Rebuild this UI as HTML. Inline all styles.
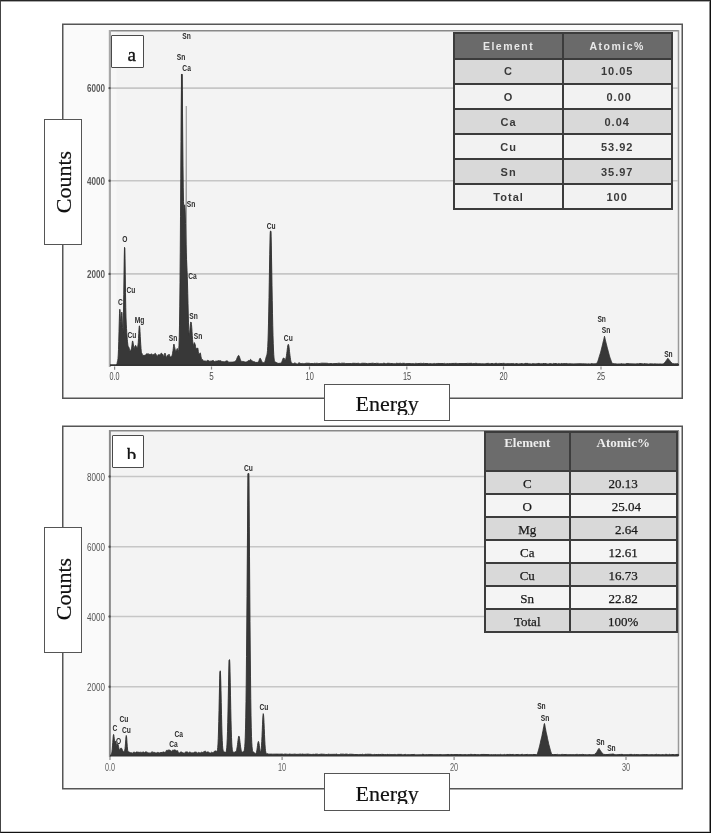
<!DOCTYPE html>
<html><head><meta charset="utf-8"><style>
*{margin:0;padding:0;box-sizing:border-box}
html,body{width:711px;height:833px;overflow:hidden;background:#fff}
body{position:relative}
.frame{position:absolute;left:0;top:0;width:711px;height:833px;border-top:1px solid #262626;border-left:1px solid #444;border-right:1px solid #111;border-bottom:1px solid #111;box-shadow:inset -1px 0 0 #8a8a8a, inset 0 1px 0 #a8a8a8, inset 0 -1px 0 #c8c8c8;z-index:10;pointer-events:none}
.box{position:absolute;background:#fff;border:1.5px solid #555}
.lbl{font-family:"Liberation Serif",serif;font-size:22px;color:#111;position:absolute;white-space:nowrap;line-height:1;-webkit-text-stroke:0.2px #111}
.tag{position:absolute;background:#fff;border:1.5px solid #4a4a4a;border-radius:1px;font-family:"Liberation Serif",serif;font-size:19px;color:#111;line-height:1;-webkit-text-stroke:0.35px #111}
table{position:absolute;border-collapse:collapse;table-layout:fixed}
td{border:1.5px solid #333;text-align:center;padding:0;overflow:hidden;white-space:nowrap}
.ta td{border:2px solid #3c3c3c;font-family:"Liberation Sans",sans-serif;font-size:11px;font-weight:bold;color:#3a3a3a;height:25.1px;letter-spacing:1px;padding-top:0}
.ta tr.h td{background:#6a6a6a;color:#e8e8e8;font-size:10.5px;height:25.6px;padding-top:0;letter-spacing:1.5px}
.ta tr.g td{background:#d9d9d9}
.ta tr.w td{background:#f2f2f2}
.tb td{border:2px solid #3c3c3c;font-family:"Liberation Serif",serif;font-size:13px;color:#1a1a1a;height:23.0px;padding-top:2px;-webkit-text-stroke:0.25px #1a1a1a}
.tb tr.h td{background:#6c6c6c;color:#eee;-webkit-text-stroke:0;font-weight:bold;vertical-align:top;padding-top:2px;height:39.6px}
.tb tr.g td{background:#d9d9d9}
.tb tr.w td{background:#f4f4f4}
</style></head><body>
<svg width="711" height="833" viewBox="0 0 711 833" style="position:absolute;left:0;top:0">
  <!-- panel a -->
  <rect x="62.75" y="24.25" width="619.5" height="374" fill="#fafafa" stroke="#555" stroke-width="1.5"/>
  <rect x="109.5" y="30.5" width="569" height="335" fill="#f3f3f3"/>
  <rect x="110.5" y="30.5" width="6" height="335" fill="#f7f7f7"/>
  <line x1="109" y1="30.75" x2="679" y2="30.75" stroke="#888" stroke-width="1.5"/>
  <line x1="678.5" y1="30" x2="678.5" y2="366" stroke="#999" stroke-width="1.5"/>
  <g stroke="#c6c6c6" stroke-width="1.6">
    <line x1="110" y1="88.1" x2="678" y2="88.1"/>
    <line x1="110" y1="180.7" x2="678" y2="180.7"/>
    <line x1="110" y1="273.9" x2="678" y2="273.9"/>
  </g>
  <line x1="109.9" y1="30" x2="109.9" y2="367" stroke="#a8a8a8" stroke-width="2.2"/>
  <path d="M178.00,365.00 L178.00,365.00 L183.75,364.97 L184.00,364.83 L184.25,364.24 L184.50,362.11 L184.75,355.76 L185.00,340.14 L185.25,308.77 L185.50,258.11 L185.75,194.19 L186.00,135.55 L186.25,105.90 L186.50,119.05 L186.75,168.74 L187.00,233.35 L187.25,290.77 L187.50,329.81 L187.75,350.98 L188.00,360.30 L188.25,363.68 L188.50,364.69 L188.75,364.94 L195.00,365.00 L195.00,365.00 Z" fill="#9c9c9c" stroke="none"/>
  <line x1="186.3" y1="106" x2="186.3" y2="260" stroke="#a0a0a0" stroke-width="1.2"/>
  <path d="M116.00,365.00 L116.00,365.00 L116.75,365.00 L117.00,363.78 L117.25,362.27 L117.50,361.24 L117.75,360.33 L118.00,358.57 L118.25,355.01 L118.50,349.37 L118.75,341.46 L119.00,331.50 L119.25,321.86 L119.50,313.64 L119.75,309.27 L120.00,310.02 L120.25,314.99 L120.50,321.27 L120.75,325.81 L121.00,326.13 L121.25,321.61 L121.50,315.39 L121.75,312.09 L122.00,313.71 L122.25,320.00 L122.50,327.67 L122.75,332.87 L123.00,332.80 L123.25,326.18 L123.50,312.83 L123.75,294.69 L124.00,274.62 L124.25,257.21 L124.50,247.45 L124.75,248.04 L125.00,258.27 L125.25,274.64 L125.50,292.48 L125.75,307.65 L126.00,317.96 L126.25,324.08 L126.50,328.42 L126.75,332.32 L127.00,336.05 L127.25,339.24 L127.50,341.81 L127.75,344.08 L128.00,345.92 L128.25,346.88 L128.50,346.92 L128.75,347.04 L129.00,347.72 L129.25,348.51 L129.50,349.26 L129.75,350.42 L130.00,351.03 L130.50,350.91 L130.75,350.74 L131.00,349.90 L131.25,349.05 L131.50,348.33 L131.75,347.08 L132.00,344.91 L132.25,342.47 L132.50,341.02 L132.75,341.12 L133.00,342.15 L133.25,343.87 L133.50,346.04 L133.75,347.69 L134.00,348.36 L134.25,348.39 L134.50,347.84 L134.75,346.86 L135.00,346.04 L135.25,345.66 L135.50,345.35 L135.75,345.49 L136.00,346.00 L136.25,346.54 L136.50,347.04 L136.75,347.50 L137.00,347.38 L137.25,347.27 L137.50,347.14 L137.75,346.43 L138.00,344.88 L138.25,342.46 L138.50,338.50 L138.75,333.65 L139.00,329.06 L139.25,326.30 L139.50,325.80 L139.75,327.66 L140.00,331.57 L140.25,336.56 L140.50,341.03 L140.75,344.81 L141.00,348.32 L141.25,351.14 L141.50,352.70 L141.75,353.06 L142.00,353.48 L142.25,354.17 L142.50,354.81 L142.75,355.25 L143.00,355.58 L143.25,355.70 L143.50,355.30 L143.75,354.91 L144.00,355.17 L144.25,355.75 L144.50,355.79 L144.75,355.22 L145.00,354.79 L145.25,355.00 L145.50,355.43 L145.75,355.28 L146.00,354.61 L146.25,354.03 L146.50,353.78 L147.00,353.79 L147.25,353.95 L147.50,354.13 L147.75,353.77 L148.00,353.52 L148.25,353.67 L148.50,353.92 L148.75,354.19 L149.00,354.79 L149.25,355.08 L149.50,354.65 L149.75,354.07 L150.00,354.09 L150.25,354.47 L150.50,354.43 L150.75,354.22 L151.00,354.20 L151.25,354.06 L151.50,353.81 L151.75,353.94 L152.00,354.20 L152.25,354.38 L152.50,354.95 L152.75,355.54 L153.00,355.35 L153.25,354.61 L153.50,354.39 L153.75,354.71 L154.00,354.70 L154.25,354.22 L154.50,353.92 L154.75,353.79 L155.00,353.39 L155.25,353.30 L155.50,353.76 L155.75,354.19 L156.00,354.27 L156.25,354.59 L156.50,355.08 L156.75,355.75 L157.00,356.26 L157.25,356.37 L157.50,356.22 L157.75,355.81 L158.00,355.03 L158.25,354.58 L158.50,354.75 L158.75,355.05 L159.00,354.97 L159.25,354.71 L159.50,354.71 L159.75,354.96 L160.00,355.03 L160.25,354.74 L160.50,354.33 L160.75,353.88 L161.00,353.23 L161.25,353.05 L161.50,353.53 L161.75,354.06 L162.00,354.20 L162.75,354.27 L163.00,354.53 L163.25,355.41 L163.50,356.37 L163.75,356.57 L164.00,356.29 L164.25,355.67 L164.50,354.40 L164.75,353.26 L165.00,353.06 L165.25,353.46 L165.50,354.29 L165.75,355.70 L166.00,356.84 L166.25,357.30 L166.50,357.32 L166.75,356.98 L167.00,356.18 L167.25,355.68 L167.50,355.37 L167.75,355.17 L168.00,355.26 L168.25,355.64 L168.50,355.43 L168.75,354.55 L169.00,354.11 L169.25,354.52 L169.50,355.18 L169.75,355.89 L170.00,356.63 L170.25,356.90 L170.50,356.90 L170.75,356.74 L171.00,356.51 L171.25,356.46 L171.50,356.28 L171.75,356.18 L172.00,356.05 L172.25,355.08 L172.50,353.42 L172.75,352.09 L173.00,350.78 L173.25,348.75 L173.50,346.23 L173.75,344.37 L174.00,344.10 L174.25,345.20 L174.50,346.55 L174.75,347.64 L175.00,348.83 L175.25,350.13 L175.50,350.99 L175.75,351.24 L176.00,351.21 L176.25,350.73 L176.50,350.11 L176.75,349.59 L177.00,349.00 L177.25,348.48 L177.50,348.79 L177.75,350.00 L178.00,351.09 L178.25,351.51 L178.50,351.21 L178.75,349.51 L179.00,345.23 L179.25,337.59 L179.50,325.10 L179.75,306.90 L180.00,282.65 L180.25,252.29 L180.50,216.77 L180.75,178.86 L181.00,141.70 L181.25,108.97 L181.50,85.14 L181.75,73.97 L182.00,76.42 L182.25,90.46 L182.50,113.08 L182.75,139.91 L183.00,165.90 L183.25,187.15 L183.50,201.61 L183.75,208.66 L184.00,209.76 L184.25,207.77 L184.50,205.43 L184.75,204.77 L185.00,207.46 L185.25,214.05 L185.50,223.42 L185.75,234.11 L186.00,244.44 L186.25,252.89 L186.50,259.51 L186.75,265.13 L187.00,270.41 L187.25,276.30 L187.50,284.01 L187.75,293.53 L188.00,303.71 L188.25,313.95 L188.50,322.86 L188.75,329.51 L189.00,333.69 L189.25,335.40 L189.50,334.63 L189.75,332.15 L190.00,329.01 L190.25,325.99 L190.50,323.55 L190.75,322.07 L191.00,322.00 L191.25,322.84 L191.50,324.72 L191.75,327.64 L192.00,331.28 L192.25,335.39 L192.50,339.36 L192.75,341.95 L193.00,343.80 L193.25,345.22 L193.50,345.69 L193.75,345.14 L194.00,343.85 L194.25,342.68 L194.50,342.72 L194.75,343.47 L195.00,344.08 L195.25,344.90 L195.50,346.35 L195.75,347.89 L196.00,348.87 L196.25,348.93 L196.50,348.57 L196.75,348.36 L197.00,348.46 L197.25,348.46 L197.50,348.00 L197.75,347.91 L198.00,349.20 L198.25,351.33 L198.50,352.87 L198.75,353.68 L199.00,354.23 L199.25,354.35 L199.50,353.94 L199.75,353.43 L200.00,352.92 L200.25,352.89 L200.50,353.74 L200.75,355.13 L201.00,356.65 L201.25,358.11 L201.50,359.11 L201.75,359.58 L202.00,359.73 L202.25,359.64 L202.50,359.48 L202.75,359.67 L203.00,360.43 L203.25,360.97 L203.75,361.07 L204.00,361.09 L204.25,360.92 L204.50,360.93 L204.75,361.03 L206.25,361.13 L206.75,361.14 L207.00,360.94 L207.25,360.65 L207.50,360.35 L207.75,360.16 L208.00,360.15 L208.25,360.33 L208.50,360.62 L208.75,360.92 L209.00,361.16 L209.25,361.24 L210.25,361.14 L211.25,361.05 L212.00,360.97 L212.25,360.82 L212.50,360.62 L212.75,360.44 L213.00,360.33 L213.25,360.38 L213.50,360.64 L213.75,361.00 L214.00,361.37 L214.25,361.62 L214.75,361.60 L215.00,361.46 L215.25,361.31 L215.50,361.20 L216.75,361.11 L217.25,361.08 L217.50,360.97 L217.75,360.84 L218.00,360.72 L219.25,360.82 L221.00,360.86 L221.25,361.02 L221.50,361.28 L221.75,361.55 L222.00,361.75 L223.25,361.65 L224.50,361.75 L225.00,361.72 L225.25,361.55 L225.50,361.32 L225.75,361.11 L226.00,360.98 L227.25,360.89 L227.50,360.91 L227.75,361.13 L228.00,361.48 L228.25,361.85 L228.50,362.13 L228.75,362.22 L233.00,362.12 L233.25,362.01 L233.50,361.90 L233.75,361.82 L234.25,361.74 L234.50,361.64 L234.75,361.51 L235.00,361.35 L235.25,361.16 L235.50,360.98 L235.75,360.77 L236.00,360.49 L236.25,360.08 L236.50,359.51 L236.75,358.85 L237.00,358.21 L237.25,357.59 L237.50,357.01 L237.75,356.48 L238.00,356.02 L238.25,355.65 L238.50,355.44 L238.75,355.47 L239.00,355.77 L239.25,356.33 L239.50,357.03 L239.75,357.79 L240.00,358.57 L240.25,359.31 L240.50,359.96 L240.75,360.47 L241.00,360.85 L241.25,361.13 L241.50,361.35 L241.75,361.54 L242.25,361.55 L242.50,361.44 L242.75,361.34 L243.25,361.37 L243.50,361.49 L243.75,361.62 L244.00,361.73 L244.50,361.81 L244.75,361.88 L245.00,361.96 L245.50,362.07 L246.25,361.93 L246.50,361.84 L246.75,361.74 L247.00,361.64 L247.25,361.50 L247.50,361.32 L247.75,361.11 L248.00,360.88 L248.25,360.65 L248.50,360.53 L249.25,360.63 L249.50,360.57 L249.75,360.34 L250.00,360.00 L250.25,359.66 L250.50,359.42 L250.75,359.41 L251.00,359.63 L251.25,359.91 L251.50,360.22 L251.75,360.53 L252.00,360.80 L252.25,361.02 L252.50,361.19 L252.75,361.31 L253.00,361.40 L253.50,361.55 L253.75,361.63 L254.25,361.78 L254.75,361.85 L255.00,361.95 L255.25,362.12 L255.50,362.32 L255.75,362.47 L257.50,362.33 L257.75,362.27 L258.00,362.18 L258.25,362.01 L258.50,361.71 L258.75,361.23 L259.00,360.57 L259.25,359.82 L259.50,359.10 L259.75,358.53 L260.00,358.23 L260.25,358.26 L260.50,358.56 L260.75,359.05 L261.00,359.62 L261.25,360.15 L261.50,360.67 L261.75,361.20 L262.00,361.68 L262.25,362.10 L262.50,362.44 L262.75,362.68 L263.00,362.81 L264.00,362.75 L264.25,362.59 L264.50,362.31 L264.75,361.89 L265.00,361.29 L265.25,360.52 L265.50,359.59 L265.75,358.59 L266.00,357.62 L266.25,356.75 L266.50,356.00 L266.75,355.29 L267.00,354.39 L267.25,352.92 L267.50,350.45 L267.75,346.52 L268.00,340.79 L268.25,333.02 L268.50,323.08 L268.75,311.10 L269.00,297.45 L269.25,282.80 L269.50,268.07 L269.75,254.41 L270.00,242.98 L270.25,234.87 L270.50,230.86 L270.75,231.33 L271.00,236.25 L271.25,245.10 L271.50,257.05 L271.75,270.99 L272.00,285.74 L272.25,300.27 L272.50,313.75 L272.75,325.64 L273.00,335.65 L273.25,343.75 L273.50,350.02 L273.75,354.67 L274.00,357.95 L274.25,360.12 L274.50,361.33 L274.75,361.87 L275.00,362.01 L275.50,362.05 L275.75,362.18 L276.00,362.33 L276.25,362.48 L276.50,362.60 L277.00,362.73 L277.25,362.89 L277.50,363.11 L277.75,363.31 L278.00,363.44 L279.00,363.34 L280.00,363.25 L280.50,363.14 L280.75,363.07 L281.00,362.95 L281.25,362.76 L281.50,362.45 L281.75,362.00 L282.00,361.40 L282.25,360.71 L282.50,359.99 L282.75,359.28 L283.00,358.68 L283.25,358.25 L283.50,358.00 L283.75,357.91 L284.00,358.03 L284.25,358.36 L284.50,358.89 L284.75,359.50 L285.00,359.89 L285.25,359.98 L285.50,359.72 L285.75,359.09 L286.00,358.11 L286.25,356.88 L286.50,355.38 L286.75,353.62 L287.00,351.65 L287.25,349.55 L287.50,347.55 L287.75,345.92 L288.00,344.80 L288.25,344.31 L288.50,344.52 L288.75,345.47 L289.00,347.07 L289.25,349.13 L289.50,351.42 L289.75,353.70 L290.00,355.81 L290.25,357.71 L290.50,359.32 L290.75,360.63 L291.00,361.65 L291.25,362.38 L291.50,362.84 L291.75,363.09 L292.00,363.22 L292.50,363.38 L293.00,363.52 L293.50,363.61 L293.75,363.62 L294.00,363.51 L294.25,363.29 L294.50,363.04 L294.75,362.84 L295.00,362.76 L295.25,362.87 L295.50,363.12 L295.75,363.43 L296.00,363.70 L296.25,363.85 L297.00,364.00 L297.50,364.10 L297.75,364.06 L298.00,363.78 L298.25,363.38 L298.50,362.98 L298.75,362.70 L299.00,362.67 L299.25,362.78 L299.50,362.97 L299.75,363.16 L300.00,363.37 L300.75,363.47 L301.25,363.59 L302.25,363.47 L302.75,363.38 L303.25,363.46 L303.50,363.55 L303.75,363.63 L304.50,363.62 L304.75,363.54 L305.00,363.46 L305.75,363.34 L306.25,363.19 L309.00,363.28 L309.75,363.36 L310.25,363.51 L313.00,363.61 L313.50,363.56 L313.75,363.47 L314.00,363.37 L314.25,363.29 L315.50,363.38 L316.75,363.28 L317.75,363.39 L318.25,363.51 L320.00,363.54 L320.25,363.45 L320.50,363.35 L320.75,363.27 L321.75,363.17 L326.75,363.26 L328.00,363.39 L328.25,363.47 L328.75,363.59 L329.50,363.50 L332.00,363.61 L332.50,363.70 L335.00,363.59 L337.25,363.45 L337.75,363.33 L338.75,363.21 L339.75,363.29 L340.00,363.37 L340.50,363.47 L341.00,363.38 L341.25,363.29 L341.75,363.18 L344.75,363.24 L345.00,363.33 L345.25,363.43 L345.75,363.53 L347.00,363.62 L351.50,363.52 L352.00,363.40 L353.00,363.27 L355.50,363.37 L356.00,363.47 L357.25,363.37 L358.50,363.29 L359.00,363.34 L359.25,363.45 L359.50,363.57 L359.75,363.67 L360.25,363.68 L360.50,363.60 L360.75,363.50 L361.00,363.41 L361.75,363.33 L362.25,363.25 L365.50,363.34 L366.00,363.43 L367.00,363.54 L367.50,363.64 L368.25,363.56 L368.50,363.46 L368.75,363.36 L370.00,363.51 L371.25,363.37 L372.00,363.28 L373.00,363.19 L373.25,363.23 L373.50,363.31 L373.75,363.41 L374.00,363.49 L376.00,363.47 L376.25,363.38 L376.50,363.29 L378.50,363.39 L378.75,363.48 L379.00,363.57 L379.50,363.68 L382.25,363.68 L382.50,363.59 L382.75,363.47 L383.00,363.35 L383.25,363.26 L385.00,363.36 L385.25,363.46 L385.50,363.57 L385.75,363.66 L386.25,363.66 L386.50,363.57 L386.75,363.45 L387.00,363.35 L388.00,363.25 L389.50,363.36 L390.50,363.48 L391.00,363.57 L392.25,363.48 L393.25,363.62 L393.75,363.72 L395.25,363.77 L395.50,363.66 L395.75,363.51 L396.00,363.35 L396.25,363.24 L397.25,363.36 L398.25,363.44 L399.75,363.34 L400.25,363.25 L400.75,363.33 L401.00,363.41 L401.50,363.54 L402.25,363.42 L402.75,363.29 L404.50,363.36 L404.75,363.46 L405.00,363.56 L405.25,363.65 L410.25,363.52 L411.75,363.64 L414.50,363.74 L414.75,363.72 L415.00,363.64 L415.25,363.51 L415.50,363.38 L415.75,363.29 L416.25,363.34 L416.50,363.42 L416.75,363.52 L417.25,363.61 L419.00,363.53 L420.25,363.42 L420.75,363.32 L421.75,363.43 L422.25,363.57 L423.00,363.45 L423.25,363.36 L423.75,363.28 L424.25,363.38 L424.75,363.51 L428.00,363.59 L428.25,363.67 L428.50,363.76 L429.75,363.64 L431.50,363.73 L432.50,363.82 L433.00,363.81 L433.25,363.71 L433.50,363.57 L433.75,363.45 L434.50,363.45 L434.75,363.55 L435.00,363.65 L435.50,363.74 L436.25,363.61 L437.25,363.50 L438.00,363.41 L439.00,363.50 L440.00,363.59 L443.50,363.50 L444.25,363.39 L444.75,363.42 L445.00,363.52 L445.25,363.63 L445.50,363.73 L446.50,363.64 L447.00,363.52 L447.75,363.61 L448.25,363.70 L450.25,363.58 L450.50,363.49 L451.00,363.40 L451.75,363.49 L454.75,363.41 L456.00,363.32 L456.75,363.43 L457.00,363.51 L457.50,363.60 L458.50,363.51 L464.00,363.60 L467.25,363.45 L467.75,363.32 L468.75,363.42 L471.25,363.33 L472.00,363.34 L472.25,363.43 L472.50,363.54 L472.75,363.65 L474.25,363.55 L475.00,363.45 L475.50,363.33 L477.25,363.42 L477.50,363.52 L477.75,363.64 L478.00,363.75 L480.75,363.63 L481.50,363.72 L482.00,363.83 L483.50,363.75 L484.50,363.84 L485.25,363.75 L485.50,363.65 L485.75,363.56 L486.75,363.46 L488.25,363.38 L489.00,363.42 L489.25,363.53 L489.50,363.66 L489.75,363.76 L490.50,363.70 L490.75,363.60 L491.00,363.52 L493.00,363.58 L493.25,363.66 L493.50,363.75 L494.25,363.74 L494.50,363.62 L494.75,363.50 L495.00,363.40 L496.75,363.37 L497.00,363.47 L497.25,363.60 L497.50,363.72 L498.00,363.75 L498.25,363.66 L498.50,363.53 L498.75,363.42 L499.50,363.41 L499.75,363.51 L500.00,363.60 L502.25,363.50 L502.50,363.42 L503.00,363.32 L504.00,363.40 L504.50,363.44 L504.75,363.53 L505.00,363.64 L505.25,363.75 L506.75,363.66 L510.00,363.75 L512.75,363.61 L513.25,363.50 L513.75,363.57 L514.00,363.68 L514.25,363.80 L514.50,363.89 L515.00,363.87 L515.25,363.79 L515.50,363.70 L516.00,363.59 L517.50,363.68 L518.00,363.81 L518.50,363.91 L519.25,363.83 L519.75,363.74 L520.50,363.66 L521.00,363.57 L522.75,363.65 L523.25,363.79 L523.75,363.90 L524.00,363.86 L524.25,363.74 L524.50,363.59 L524.75,363.44 L525.00,363.36 L526.00,363.44 L528.00,363.43 L528.25,363.56 L528.50,363.71 L528.75,363.83 L531.50,363.92 L531.75,363.90 L532.00,363.82 L532.25,363.70 L532.50,363.58 L532.75,363.49 L533.25,363.53 L533.50,363.61 L533.75,363.70 L534.25,363.78 L535.50,363.87 L536.25,363.76 L537.00,363.68 L537.25,363.62 L537.50,363.53 L538.00,363.41 L539.75,363.52 L540.00,363.61 L540.25,363.70 L540.75,363.80 L542.25,363.82 L542.50,363.71 L542.75,363.58 L543.00,363.47 L544.25,363.58 L546.25,363.60 L546.50,363.70 L546.75,363.80 L547.25,363.91 L548.75,363.89 L549.00,363.80 L549.25,363.70 L549.50,363.60 L551.00,363.71 L551.75,363.82 L552.25,363.91 L552.50,363.91 L552.75,363.83 L553.00,363.69 L553.25,363.55 L553.50,363.44 L554.50,363.53 L556.50,363.52 L556.75,363.61 L557.00,363.73 L557.25,363.84 L557.75,363.90 L558.00,363.82 L558.25,363.69 L558.50,363.56 L558.75,363.48 L559.25,363.54 L559.50,363.67 L559.75,363.80 L560.00,363.90 L560.50,363.87 L560.75,363.75 L561.00,363.61 L561.25,363.50 L562.25,363.61 L562.75,363.70 L565.75,363.61 L566.25,363.49 L567.00,363.48 L567.25,363.58 L567.50,363.69 L567.75,363.78 L568.75,363.87 L570.00,363.77 L570.50,363.67 L571.25,363.76 L571.75,363.84 L573.00,363.92 L578.00,363.82 L580.25,363.71 L580.75,363.57 L581.50,363.63 L581.75,363.71 L582.25,363.82 L583.25,363.72 L584.50,363.85 L587.25,363.97 L588.50,363.87 L589.75,363.97 L590.25,363.98 L590.50,363.90 L590.75,363.78 L591.00,363.66 L591.25,363.58 L592.50,363.67 L593.25,363.76 L593.75,363.87 L594.75,363.79 L595.50,363.71 L596.00,363.57 L596.50,363.46 L596.75,363.17 L597.00,362.82 L597.25,362.43 L597.50,362.00 L597.75,361.47 L598.00,360.82 L598.25,360.06 L598.50,359.23 L598.75,358.36 L599.00,357.49 L599.25,356.67 L599.50,355.88 L599.75,355.09 L600.00,354.30 L600.25,353.47 L600.50,352.60 L600.75,351.68 L601.00,350.74 L601.25,349.78 L601.50,348.81 L601.75,347.83 L602.00,346.82 L602.25,345.77 L602.50,344.70 L602.75,343.62 L603.00,342.54 L603.25,341.49 L603.50,340.47 L603.75,339.47 L604.00,338.45 L604.25,337.40 L604.50,336.30 L604.75,337.40 L605.00,338.48 L605.25,339.55 L605.50,340.62 L605.75,341.68 L606.00,342.72 L606.25,343.74 L606.50,344.74 L606.75,345.73 L607.00,346.72 L607.25,347.70 L607.50,348.63 L607.75,349.55 L608.00,350.45 L608.25,351.36 L608.50,352.30 L608.75,353.28 L609.00,354.27 L609.25,355.23 L609.50,356.13 L609.75,356.95 L610.00,357.70 L610.25,358.39 L610.50,359.06 L610.75,359.73 L611.00,360.41 L611.25,361.08 L611.50,361.72 L611.75,362.32 L612.00,362.85 L612.25,363.30 L612.50,363.61 L614.00,363.69 L614.75,363.79 L616.75,363.91 L617.25,363.99 L620.25,363.96 L620.50,363.86 L620.75,363.75 L621.00,363.65 L621.75,363.67 L622.00,363.76 L622.50,363.88 L624.50,363.96 L625.50,363.93 L625.75,363.82 L626.00,363.69 L626.25,363.58 L629.50,363.70 L630.00,363.83 L635.25,363.93 L636.50,363.83 L638.50,363.84 L638.75,363.74 L639.00,363.62 L639.25,363.52 L641.50,363.62 L642.00,363.73 L642.75,363.82 L643.25,363.91 L643.75,363.84 L644.00,363.72 L644.25,363.60 L644.50,363.51 L645.00,363.54 L645.25,363.64 L645.50,363.75 L645.75,363.84 L648.00,363.97 L648.50,364.06 L649.25,363.95 L649.75,363.85 L653.75,363.95 L654.50,363.85 L655.50,363.84 L655.75,363.92 L656.00,364.00 L657.75,363.92 L658.75,364.01 L659.75,363.91 L661.25,364.02 L663.00,364.03 L663.25,363.86 L663.50,363.64 L663.75,363.39 L664.00,363.13 L664.25,362.89 L664.50,362.64 L664.75,362.39 L665.00,362.13 L665.25,361.85 L665.50,361.57 L665.75,361.24 L666.00,360.89 L666.25,360.51 L666.50,360.13 L666.75,359.77 L667.00,359.44 L667.25,359.10 L667.50,358.76 L667.75,358.41 L668.00,358.35 L668.25,358.70 L668.50,359.03 L668.75,359.33 L669.00,359.64 L669.25,359.95 L669.50,360.27 L669.75,360.60 L670.00,360.92 L670.25,361.24 L670.50,361.55 L670.75,361.84 L671.00,362.11 L671.25,362.37 L671.50,362.61 L671.75,362.84 L672.00,363.06 L672.25,363.26 L672.50,363.42 L672.75,363.54 L673.75,363.65 L674.00,363.73 L674.50,363.86 L676.25,363.83 L676.50,363.73 L676.75,363.62 L677.00,363.53 L677.50,363.57 L677.75,363.70 L678.00,363.84 L678.25,363.96 L678.50,364.01 L678.50,365.00 Z" fill="#383838" stroke="#303030" stroke-width="0.9" stroke-linejoin="round"/>
  <g stroke="#363636"><line x1="181.8" y1="74.2" x2="181.8" y2="170" stroke-width="1.7"/><line x1="270.6" y1="231.5" x2="270.6" y2="300" stroke-width="1.5"/><line x1="124.6" y1="247.5" x2="124.6" y2="300" stroke-width="1.0"/></g>
  <line x1="110" y1="365.2" x2="678.5" y2="365.2" stroke="#333" stroke-width="1.8"/>
  <g stroke="#888" stroke-width="1.2"><line x1="114.6" y1="366.5" x2="114.6" y2="369.8"/><line x1="211.5" y1="366.5" x2="211.5" y2="369.5"/><line x1="309.5" y1="366.5" x2="309.5" y2="369.5"/><line x1="406.8" y1="366.5" x2="406.8" y2="369.5"/><line x1="503.5" y1="366.5" x2="503.5" y2="369.5"/><line x1="601" y1="366.5" x2="601" y2="369.5"/></g>
  <g fill="#5a5a5a" font-family="Liberation Sans, sans-serif" font-size="11.5" font-weight="bold" text-anchor="end">
    <text x="105" y="92.2" textLength="18" lengthAdjust="spacingAndGlyphs">6000</text>
    <text x="105" y="184.8" textLength="18" lengthAdjust="spacingAndGlyphs">4000</text>
    <text x="105" y="278.0" textLength="18" lengthAdjust="spacingAndGlyphs">2000</text>
  </g>
  <g fill="#555">
    <circle cx="109.6" cy="88.1" r="1.2"/><circle cx="109.6" cy="180.7" r="1.2"/><circle cx="109.6" cy="273.9" r="1.2"/>
  </g>
  <g fill="#4a4a4a" font-family="Liberation Sans, sans-serif" font-size="10.8"><text x="109.60" y="380.3" textLength="10.0" lengthAdjust="spacingAndGlyphs">0.0</text><text x="209.25" y="380.3" textLength="4.5" lengthAdjust="spacingAndGlyphs">5</text><text x="305.60" y="380.3" textLength="8.2" lengthAdjust="spacingAndGlyphs">10</text><text x="402.90" y="380.3" textLength="8.2" lengthAdjust="spacingAndGlyphs">15</text><text x="499.40" y="380.3" textLength="8.2" lengthAdjust="spacingAndGlyphs">20</text><text x="596.90" y="380.3" textLength="8.2" lengthAdjust="spacingAndGlyphs">25</text></g>
  <g fill="#2a2a2a" font-family="Liberation Sans, sans-serif" font-size="9.0" font-weight="bold">
    <text x="182.34" y="38.92" textLength="8.51" lengthAdjust="spacingAndGlyphs">Sn</text>
    <text x="176.74" y="59.72" textLength="8.51" lengthAdjust="spacingAndGlyphs">Sn</text>
    <text x="182.34" y="71.02" textLength="8.51" lengthAdjust="spacingAndGlyphs">Ca</text>
    <text x="186.74" y="206.82" textLength="8.51" lengthAdjust="spacingAndGlyphs">Sn</text>
    <text x="188.24" y="279.22" textLength="8.51" lengthAdjust="spacingAndGlyphs">Ca</text>
    <text x="189.24" y="319.22" textLength="8.51" lengthAdjust="spacingAndGlyphs">Sn</text>
    <text x="168.74" y="341.22" textLength="8.51" lengthAdjust="spacingAndGlyphs">Sn</text>
    <text x="193.74" y="339.22" textLength="8.51" lengthAdjust="spacingAndGlyphs">Sn</text>
    <text x="122.21" y="241.92" textLength="5.18" lengthAdjust="spacingAndGlyphs">O</text>
    <text x="126.56" y="292.92" textLength="8.88" lengthAdjust="spacingAndGlyphs">Cu</text>
    <text x="118.10" y="304.62" textLength="4.81" lengthAdjust="spacingAndGlyphs">C</text>
    <text x="134.69" y="323.22" textLength="9.62" lengthAdjust="spacingAndGlyphs">Mg</text>
    <text x="127.56" y="337.72" textLength="8.88" lengthAdjust="spacingAndGlyphs">Cu</text>
    <text x="266.66" y="229.22" textLength="8.88" lengthAdjust="spacingAndGlyphs">Cu</text>
    <text x="283.86" y="340.62" textLength="8.88" lengthAdjust="spacingAndGlyphs">Cu</text>
    <text x="597.44" y="321.82" textLength="8.51" lengthAdjust="spacingAndGlyphs">Sn</text>
    <text x="601.74" y="333.22" textLength="8.51" lengthAdjust="spacingAndGlyphs">Sn</text>
    <text x="664.14" y="356.92" textLength="8.51" lengthAdjust="spacingAndGlyphs">Sn</text>
  </g>

  <!-- panel b -->
  <rect x="62.75" y="426.25" width="619.5" height="362.5" fill="#fafafa" stroke="#555" stroke-width="1.5"/>
  <rect x="109.5" y="430.5" width="569" height="325.3" fill="#f3f3f3"/>
  <line x1="109" y1="430.75" x2="679" y2="430.75" stroke="#888" stroke-width="1.5"/>
  <line x1="678.5" y1="431" x2="678.5" y2="756" stroke="#999" stroke-width="1.5"/>
  <g stroke="#c6c6c6" stroke-width="1.6">
    <line x1="110" y1="476.5" x2="678" y2="476.5"/>
    <line x1="110" y1="546.8" x2="678" y2="546.8"/>
    <line x1="110" y1="616.5" x2="678" y2="616.5"/>
    <line x1="110" y1="686.7" x2="678" y2="686.7"/>
  </g>
  <line x1="109.9" y1="430" x2="109.9" y2="757" stroke="#8c8c8c" stroke-width="2.0"/>
  <path d="M111.00,755.50 L111.00,754.88 L111.25,754.69 L111.50,753.82 L111.75,752.76 L112.00,751.32 L112.25,749.24 L112.50,745.88 L112.75,742.60 L113.00,739.04 L113.25,736.05 L113.50,734.43 L113.75,734.65 L114.00,736.44 L114.25,738.87 L114.50,740.86 L114.75,741.80 L115.00,741.72 L115.25,741.21 L115.50,741.00 L115.75,741.52 L116.00,742.68 L116.25,744.02 L116.50,745.03 L116.75,745.41 L117.00,745.16 L117.25,744.62 L117.50,744.14 L117.75,744.01 L118.00,744.37 L118.25,745.18 L118.50,746.35 L118.75,747.64 L119.00,748.80 L119.25,749.62 L119.50,750.01 L119.75,749.94 L120.00,749.53 L120.25,748.97 L120.50,748.44 L120.75,748.10 L121.00,748.00 L121.25,748.05 L121.50,748.26 L121.75,748.62 L122.00,749.08 L122.25,749.62 L122.50,750.19 L122.75,750.73 L123.00,751.18 L123.25,751.49 L123.50,751.64 L123.75,751.66 L124.00,751.58 L124.25,751.37 L124.50,750.95 L124.75,750.14 L125.00,748.66 L125.25,746.31 L125.50,743.14 L125.75,739.67 L126.00,736.79 L126.25,735.50 L126.50,736.36 L126.75,739.07 L127.00,742.73 L127.25,746.30 L127.50,749.01 L127.75,750.65 L128.00,751.42 L128.25,751.67 L128.50,751.73 L128.75,751.82 L129.00,751.92 L129.25,752.02 L129.50,752.11 L129.75,752.18 L130.00,752.48 L130.25,752.55 L130.50,752.66 L130.75,752.73 L131.00,752.64 L131.25,752.59 L131.50,752.74 L131.75,752.93 L132.00,753.07 L132.25,753.22 L132.50,753.26 L132.75,753.09 L133.00,752.78 L133.25,752.40 L133.50,752.03 L133.75,751.93 L134.00,752.19 L134.25,752.40 L134.50,752.29 L134.75,752.17 L135.00,752.39 L135.25,752.72 L135.50,752.71 L135.75,752.38 L136.00,752.12 L136.25,752.04 L136.75,752.02 L137.00,752.26 L137.25,752.31 L137.50,752.04 L137.75,751.81 L138.00,751.89 L138.25,752.10 L138.50,752.19 L139.00,752.15 L139.25,752.25 L139.50,752.37 L139.75,752.31 L140.00,752.23 L140.50,752.19 L140.75,752.31 L141.00,752.39 L141.25,752.32 L141.50,752.40 L141.75,752.64 L142.00,752.70 L142.25,752.42 L142.50,752.08 L142.75,751.93 L143.25,751.91 L143.50,752.04 L143.75,752.17 L144.00,752.37 L144.25,752.61 L144.50,752.58 L144.75,752.40 L145.00,752.20 L145.25,752.01 L145.50,751.88 L146.00,751.79 L146.25,751.78 L146.50,751.99 L146.75,752.20 L147.25,752.18 L147.50,752.43 L147.75,752.70 L148.00,752.87 L148.75,752.90 L149.00,753.17 L149.25,753.28 L149.50,753.01 L149.75,752.73 L150.00,752.82 L150.25,753.09 L150.50,753.14 L150.75,753.04 L151.00,752.85 L151.25,752.53 L151.50,752.14 L151.75,751.85 L152.00,751.65 L152.25,751.68 L152.50,752.02 L152.75,752.39 L153.00,752.49 L153.25,752.39 L154.75,752.45 L155.00,752.54 L155.25,752.66 L155.50,752.83 L155.75,752.95 L156.50,752.90 L156.75,752.80 L157.00,752.72 L157.25,752.58 L157.50,752.42 L158.25,752.36 L158.50,752.61 L158.75,752.86 L159.25,752.95 L159.50,752.93 L159.75,752.63 L160.00,752.40 L160.50,752.49 L162.00,752.48 L162.25,752.36 L162.50,752.31 L162.75,752.16 L163.00,751.99 L164.00,752.02 L164.25,752.10 L164.50,752.30 L164.75,752.48 L165.00,752.38 L165.25,752.04 L165.50,751.91 L165.75,752.10 L166.00,752.21 L166.25,750.56 L166.50,750.40 L166.75,750.36 L167.00,750.25 L167.25,750.21 L167.50,750.41 L167.75,750.58 L168.00,750.43 L168.25,750.14 L168.50,749.99 L168.75,749.85 L169.00,749.78 L169.25,749.91 L169.50,750.12 L169.75,750.24 L170.25,750.31 L170.50,750.61 L170.75,751.01 L171.00,751.18 L171.50,751.30 L171.75,751.30 L172.00,751.13 L172.25,750.68 L172.50,750.19 L172.75,750.06 L173.00,750.22 L173.25,750.26 L173.50,750.18 L173.75,750.10 L174.00,750.02 L174.25,749.85 L174.50,749.86 L174.75,749.97 L175.00,750.07 L175.50,750.09 L175.75,750.23 L176.00,750.55 L176.25,750.78 L176.50,750.88 L177.00,750.84 L177.25,750.71 L177.75,750.68 L178.00,752.21 L178.25,752.32 L178.50,752.55 L178.75,752.75 L179.00,752.88 L179.50,752.98 L179.75,752.87 L180.00,752.60 L180.25,752.29 L180.50,752.10 L180.75,751.89 L181.00,751.82 L181.25,751.93 L181.50,752.04 L181.75,752.14 L182.00,752.28 L182.25,752.39 L182.50,752.54 L182.75,752.69 L183.00,752.80 L183.25,752.88 L183.50,752.95 L183.75,753.11 L184.00,753.26 L184.50,753.26 L184.75,753.09 L185.00,752.66 L185.25,752.26 L185.50,751.96 L185.75,751.79 L186.00,751.85 L186.25,751.99 L186.50,751.96 L186.75,751.77 L187.00,751.65 L187.25,751.69 L187.50,751.93 L187.75,752.29 L188.00,752.66 L188.25,752.91 L188.50,752.95 L188.75,752.80 L189.00,752.52 L189.25,752.21 L189.50,752.00 L189.75,752.07 L190.00,752.23 L190.50,752.34 L190.75,752.49 L191.00,752.69 L191.25,752.79 L192.00,752.90 L192.50,752.82 L193.25,752.80 L193.50,752.90 L193.75,752.83 L194.00,752.47 L194.25,752.19 L194.50,752.10 L195.50,752.04 L195.75,752.18 L196.00,752.28 L196.25,752.16 L196.50,752.13 L196.75,752.42 L197.00,752.86 L197.25,753.17 L197.50,753.16 L197.75,752.96 L198.00,752.80 L198.25,752.65 L198.50,752.45 L198.75,752.23 L199.00,752.20 L199.25,752.41 L199.50,752.69 L199.75,752.89 L200.50,752.88 L200.75,752.75 L201.00,752.44 L201.25,752.16 L201.75,752.14 L202.00,752.25 L202.25,752.37 L202.75,752.48 L203.00,752.52 L203.25,752.37 L203.50,751.98 L203.75,751.63 L204.00,751.52 L204.50,751.42 L205.50,751.31 L205.75,751.46 L206.00,751.68 L206.25,751.89 L206.50,752.16 L206.75,752.30 L207.00,752.20 L207.25,752.03 L207.50,751.88 L207.75,751.89 L208.00,751.98 L208.50,752.04 L208.75,752.28 L209.00,752.45 L209.25,752.51 L209.50,752.68 L209.75,752.90 L210.50,752.97 L210.75,752.89 L211.00,752.71 L211.25,752.49 L211.50,752.30 L211.75,752.23 L212.00,752.44 L212.25,752.64 L212.75,752.55 L213.00,752.57 L213.25,752.48 L213.50,752.25 L213.75,751.94 L214.00,751.64 L214.25,751.45 L214.50,751.35 L214.75,751.19 L215.00,751.00 L215.50,750.92 L215.75,751.01 L216.00,751.18 L216.25,751.34 L216.50,751.39 L216.75,751.28 L217.00,750.99 L217.25,750.55 L217.50,749.60 L217.75,747.50 L218.00,743.92 L218.25,738.53 L218.50,731.00 L218.75,721.48 L219.00,710.43 L219.25,698.63 L219.50,687.46 L219.75,678.43 L220.00,672.60 L220.25,670.79 L220.50,673.51 L220.75,680.50 L221.00,690.62 L221.25,702.36 L221.50,714.36 L221.75,725.26 L222.00,734.07 L222.25,740.63 L222.50,745.23 L222.75,748.23 L223.00,749.98 L223.25,750.94 L223.50,751.53 L223.75,751.86 L224.00,752.00 L225.00,752.09 L225.25,752.25 L225.50,752.37 L225.75,752.35 L226.00,752.06 L226.25,751.34 L226.50,750.03 L226.75,747.73 L227.00,744.04 L227.25,738.77 L227.50,731.61 L227.75,722.33 L228.00,711.06 L228.25,698.44 L228.50,685.67 L228.75,674.08 L229.00,665.08 L229.25,660.02 L229.50,659.60 L229.75,663.74 L230.00,671.78 L230.25,682.87 L230.50,695.77 L230.75,708.70 L231.00,720.21 L231.25,729.78 L231.50,737.35 L231.75,742.96 L232.00,746.82 L232.25,749.26 L232.50,750.72 L232.75,751.59 L233.00,752.14 L233.25,752.39 L233.50,752.28 L233.75,752.11 L234.00,752.18 L234.25,752.27 L234.75,752.17 L235.00,752.11 L235.25,751.88 L235.50,751.64 L236.00,751.60 L236.25,751.28 L236.50,750.45 L236.75,749.29 L237.00,747.99 L237.25,746.46 L237.50,744.62 L237.75,742.57 L238.00,740.53 L238.25,738.63 L238.50,737.09 L238.75,736.24 L239.00,736.16 L239.25,736.81 L239.50,738.25 L239.75,740.21 L240.00,742.27 L240.25,744.26 L240.50,746.16 L240.75,747.89 L241.00,749.31 L241.25,750.44 L241.50,751.33 L241.75,751.93 L242.00,752.26 L242.25,752.29 L242.50,752.03 L242.75,751.74 L243.00,751.66 L243.50,751.69 L243.75,751.48 L244.00,751.07 L244.25,750.30 L244.50,748.86 L244.75,746.52 L245.00,742.88 L245.25,737.21 L245.50,728.89 L245.75,717.21 L246.00,701.42 L246.25,681.10 L246.50,656.42 L246.75,628.00 L247.00,596.58 L247.25,563.94 L247.50,532.77 L247.75,505.81 L248.00,485.57 L248.25,474.38 L248.50,473.30 L248.75,482.37 L249.00,500.71 L249.25,526.43 L249.50,556.80 L249.75,589.16 L250.00,621.26 L250.25,650.99 L250.50,676.88 L250.75,698.32 L251.00,715.21 L251.25,727.69 L251.50,736.45 L251.75,742.41 L252.00,746.37 L252.25,748.99 L252.50,750.56 L252.75,751.43 L253.00,751.91 L253.25,752.02 L253.50,751.95 L253.75,752.17 L254.00,752.62 L254.25,752.95 L254.50,752.95 L254.75,752.82 L255.00,754.18 L255.25,754.05 L255.50,753.85 L255.75,753.59 L256.00,753.23 L256.25,752.70 L256.50,751.90 L256.75,750.78 L257.00,749.32 L257.25,747.57 L257.50,745.68 L257.75,743.86 L258.00,742.41 L258.25,741.55 L258.50,741.46 L258.75,742.14 L259.00,743.50 L259.25,745.28 L259.50,747.20 L259.75,748.99 L260.00,750.45 L260.25,751.42 L260.50,751.83 L260.75,751.60 L261.00,750.61 L261.25,748.72 L261.50,745.77 L261.75,741.64 L262.00,736.44 L262.25,730.50 L262.50,724.42 L262.75,719.05 L263.00,715.24 L263.25,713.63 L263.50,714.49 L263.75,717.65 L264.00,722.56 L264.25,728.48 L264.50,734.56 L264.75,740.12 L265.00,744.74 L265.25,748.23 L265.50,750.61 L265.75,752.10 L266.00,752.96 L266.25,753.43 L266.50,753.69 L266.75,753.81 L268.00,753.83 L268.25,753.94 L268.50,754.06 L268.75,754.16 L270.75,754.07 L272.75,754.17 L277.50,754.09 L279.00,754.18 L281.25,754.09 L281.75,753.97 L282.25,753.99 L282.50,754.09 L282.75,754.22 L283.00,754.34 L283.75,754.31 L284.00,754.22 L284.25,754.13 L285.25,754.03 L286.75,754.17 L287.50,754.25 L288.75,754.27 L289.00,754.19 L289.25,754.09 L289.50,754.00 L290.25,754.05 L290.50,754.15 L290.75,754.24 L292.00,754.33 L293.25,754.23 L294.25,754.14 L295.00,754.04 L295.25,754.08 L295.50,754.16 L295.75,754.26 L296.00,754.35 L299.00,754.27 L299.50,754.15 L299.75,754.06 L301.00,754.14 L301.50,754.22 L302.00,754.14 L302.50,754.01 L303.00,754.00 L303.25,754.09 L303.50,754.21 L303.75,754.32 L306.00,754.22 L306.50,754.13 L307.50,754.03 L308.75,754.14 L309.25,754.25 L310.25,754.36 L311.75,754.45 L312.50,754.35 L313.00,754.23 L314.00,754.35 L314.75,754.39 L315.00,754.30 L315.25,754.20 L315.50,754.11 L317.50,754.14 L317.75,754.24 L318.00,754.35 L318.50,754.44 L320.00,754.35 L320.25,754.27 L320.50,754.18 L321.00,754.08 L322.00,754.17 L324.50,754.31 L325.25,754.40 L326.00,754.50 L327.50,754.41 L328.00,754.32 L328.25,754.23 L328.75,754.12 L329.25,754.21 L329.50,754.30 L329.75,754.38 L335.75,754.29 L336.00,754.21 L336.50,754.08 L336.75,754.09 L337.00,754.18 L337.25,754.31 L337.50,754.43 L337.75,754.52 L338.75,754.61 L339.50,754.56 L339.75,754.42 L340.00,754.26 L340.25,754.13 L343.50,754.14 L343.75,754.23 L344.00,754.32 L344.75,754.34 L345.00,754.26 L345.25,754.18 L345.75,754.09 L347.25,754.15 L347.50,754.25 L347.75,754.37 L348.00,754.48 L348.75,754.45 L349.00,754.37 L349.25,754.29 L350.50,754.19 L352.00,754.28 L353.25,754.37 L354.25,754.47 L357.00,754.56 L358.25,754.65 L359.25,754.56 L359.50,754.47 L360.00,754.37 L360.75,754.48 L361.75,754.47 L362.00,754.38 L362.25,754.30 L362.75,754.26 L363.00,754.35 L363.25,754.48 L363.50,754.60 L363.75,754.69 L364.00,754.70 L364.25,754.62 L364.50,754.48 L364.75,754.34 L365.00,754.23 L366.25,754.32 L367.50,754.21 L371.00,754.31 L371.50,754.41 L372.00,754.47 L372.25,754.55 L372.50,754.65 L373.00,754.76 L373.25,754.72 L373.50,754.62 L373.75,754.50 L374.00,754.39 L374.75,754.43 L375.00,754.52 L375.25,754.62 L377.50,754.51 L378.00,754.41 L379.75,754.49 L381.25,754.47 L381.50,754.38 L381.75,754.30 L383.00,754.40 L384.00,754.52 L384.50,754.60 L386.25,754.64 L386.50,754.55 L386.75,754.45 L387.00,754.36 L388.00,754.44 L388.50,754.54 L389.25,754.46 L389.75,754.38 L390.50,754.49 L391.00,754.62 L392.00,754.70 L393.25,754.61 L394.00,754.52 L394.50,754.44 L395.50,754.46 L395.75,754.57 L396.00,754.67 L396.50,754.76 L396.75,754.70 L397.00,754.60 L397.25,754.50 L397.75,754.40 L401.75,754.41 L402.00,754.50 L402.25,754.64 L402.50,754.77 L402.75,754.87 L403.25,754.82 L403.50,754.72 L403.75,754.62 L404.25,754.52 L405.00,754.43 L405.75,754.43 L406.00,754.54 L406.25,754.68 L406.50,754.80 L409.75,754.71 L410.25,754.63 L414.00,754.51 L414.75,754.45 L415.00,754.54 L415.25,754.67 L415.50,754.79 L415.75,754.88 L421.25,754.84 L421.50,754.74 L421.75,754.59 L422.00,754.44 L422.25,754.34 L424.00,754.45 L424.25,754.57 L424.50,754.70 L424.75,754.80 L425.75,754.69 L426.25,754.60 L427.25,754.69 L431.00,754.57 L433.75,754.66 L435.00,754.76 L438.75,754.67 L439.25,754.57 L440.25,754.49 L441.25,754.57 L441.75,754.66 L442.50,754.75 L443.00,754.84 L445.00,754.75 L446.00,754.67 L446.75,754.56 L448.00,754.45 L449.00,754.54 L449.50,754.66 L450.25,754.57 L450.75,754.44 L452.25,754.53 L453.25,754.62 L457.00,754.52 L458.50,754.62 L459.75,754.51 L461.25,754.62 L462.25,754.72 L463.50,754.64 L464.50,754.55 L465.75,754.59 L466.00,754.69 L466.25,754.79 L467.50,754.69 L469.50,754.61 L470.00,754.46 L470.50,754.37 L472.25,754.43 L472.50,754.53 L472.75,754.62 L473.50,754.60 L473.75,754.52 L474.00,754.43 L476.25,754.55 L476.50,754.64 L477.00,754.74 L478.00,754.64 L479.00,754.74 L479.50,754.82 L480.00,754.73 L480.25,754.62 L480.50,754.51 L481.00,754.41 L482.00,754.50 L483.00,754.41 L486.00,754.50 L489.00,754.60 L489.50,754.75 L490.00,754.84 L490.50,754.74 L490.75,754.66 L491.25,754.55 L491.75,754.64 L492.00,754.74 L492.25,754.83 L494.25,754.75 L494.50,754.65 L494.75,754.54 L495.00,754.46 L495.50,754.49 L495.75,754.60 L496.00,754.73 L496.25,754.83 L499.25,754.82 L499.50,754.73 L499.75,754.61 L500.00,754.48 L500.25,754.39 L500.75,754.45 L501.00,754.56 L501.25,754.68 L501.50,754.77 L502.50,754.86 L503.25,754.84 L503.50,754.72 L503.75,754.58 L504.00,754.46 L504.50,754.42 L504.75,754.51 L505.00,754.64 L505.25,754.75 L505.75,754.81 L506.00,754.73 L506.25,754.61 L506.50,754.49 L506.75,754.41 L508.25,754.50 L509.25,754.41 L511.75,754.51 L513.25,754.43 L513.75,754.50 L514.00,754.62 L514.25,754.75 L514.50,754.85 L515.00,754.82 L515.25,754.71 L515.50,754.58 L515.75,754.48 L517.00,754.57 L518.50,754.47 L519.00,754.55 L519.25,754.65 L519.50,754.75 L520.25,754.77 L520.50,754.67 L520.75,754.56 L521.00,754.48 L522.00,754.38 L522.75,754.39 L523.00,754.51 L523.25,754.66 L523.50,754.79 L525.00,754.71 L526.00,754.59 L527.00,754.49 L527.75,754.40 L528.00,754.45 L528.25,754.54 L528.50,754.64 L528.75,754.72 L532.25,754.64 L532.75,754.54 L534.00,754.45 L535.00,754.59 L536.25,754.67 L536.75,754.68 L537.00,754.54 L537.25,754.00 L537.50,753.34 L537.75,752.60 L538.00,751.82 L538.25,750.99 L538.50,750.13 L538.75,749.23 L539.00,748.30 L539.25,747.34 L539.50,746.35 L539.75,745.33 L540.00,744.29 L540.25,743.22 L540.50,742.13 L540.75,741.03 L541.00,739.95 L541.25,738.87 L541.50,737.78 L541.75,736.66 L542.00,735.50 L542.25,734.28 L542.50,733.02 L542.75,731.73 L543.00,730.43 L543.25,729.15 L543.50,727.87 L543.75,726.54 L544.00,725.18 L544.25,723.81 L544.50,723.51 L544.75,724.81 L545.00,726.16 L545.25,727.52 L545.50,728.88 L545.75,730.19 L546.00,731.43 L546.25,732.63 L546.50,733.78 L546.75,734.92 L547.00,736.06 L547.25,737.21 L547.50,738.41 L547.75,739.63 L548.00,740.85 L548.25,742.03 L548.50,743.15 L548.75,744.18 L549.00,745.14 L549.25,746.07 L549.50,746.99 L549.75,747.91 L550.00,748.85 L550.25,749.75 L550.50,750.62 L550.75,751.45 L551.00,752.23 L551.25,752.97 L551.50,753.65 L551.75,754.24 L552.00,754.48 L553.50,754.58 L556.75,754.47 L557.25,754.39 L557.75,754.38 L558.00,754.46 L558.25,754.59 L558.50,754.71 L558.75,754.79 L560.50,754.79 L560.75,754.69 L561.00,754.58 L561.25,754.49 L562.25,754.39 L563.50,754.48 L564.00,754.59 L566.50,754.48 L567.00,754.51 L567.25,754.59 L567.50,754.68 L568.00,754.79 L571.25,754.66 L571.75,754.56 L572.75,754.67 L574.25,754.76 L575.00,754.67 L575.50,754.52 L576.25,754.44 L576.75,754.36 L577.50,754.42 L577.75,754.53 L578.00,754.63 L578.50,754.72 L579.00,754.61 L579.50,754.49 L580.50,754.59 L581.75,754.49 L582.25,754.39 L583.00,754.48 L584.00,754.59 L584.50,754.70 L586.50,754.79 L587.25,754.87 L588.25,754.72 L588.75,754.61 L590.50,754.70 L591.25,754.79 L592.50,754.69 L594.25,754.66 L594.50,754.45 L594.75,754.17 L595.00,753.87 L595.25,753.58 L595.50,753.33 L595.75,753.12 L596.00,752.92 L596.25,752.70 L596.50,752.43 L596.75,752.07 L597.00,751.63 L597.25,751.13 L597.50,750.62 L597.75,750.14 L598.00,749.74 L598.25,749.39 L598.50,749.07 L598.75,748.75 L599.00,748.40 L599.25,748.84 L599.50,749.24 L599.75,749.62 L600.00,749.99 L600.25,750.36 L600.50,750.74 L600.75,751.11 L601.00,751.49 L601.25,751.87 L601.50,752.23 L601.75,752.57 L602.00,752.87 L602.25,753.13 L602.50,753.36 L602.75,753.58 L603.00,753.80 L603.25,754.03 L603.50,754.23 L603.75,754.39 L605.00,754.48 L605.75,754.57 L608.00,754.47 L609.00,754.36 L609.50,754.27 L611.25,754.21 L611.50,754.12 L612.00,754.00 L613.75,754.11 L614.00,754.23 L614.25,754.35 L614.50,754.46 L615.00,754.56 L615.50,754.67 L616.25,754.75 L618.00,754.63 L618.25,754.55 L620.50,754.44 L621.00,754.35 L623.00,754.47 L623.25,754.57 L623.50,754.67 L624.00,754.76 L628.25,754.70 L628.50,754.61 L628.75,754.53 L629.75,754.43 L632.00,754.41 L632.25,754.51 L632.50,754.62 L632.75,754.71 L633.25,754.71 L633.50,754.63 L633.75,754.52 L634.00,754.43 L634.75,754.47 L635.00,754.57 L635.25,754.65 L637.50,754.56 L638.00,754.47 L638.50,754.51 L638.75,754.61 L639.00,754.72 L639.25,754.81 L641.00,754.82 L641.25,754.72 L641.50,754.60 L641.75,754.48 L642.50,754.47 L642.75,754.56 L643.00,754.65 L645.75,754.56 L647.50,754.52 L647.75,754.61 L648.00,754.72 L648.25,754.82 L649.50,754.74 L650.75,754.66 L653.50,754.75 L654.50,754.65 L655.00,754.55 L655.75,754.44 L656.25,754.33 L656.75,754.39 L657.00,754.48 L657.25,754.57 L657.75,754.67 L658.75,754.58 L659.75,754.73 L660.25,754.83 L661.50,754.74 L662.25,754.62 L662.75,754.51 L663.25,754.56 L663.50,754.65 L663.75,754.74 L664.25,754.83 L664.50,754.77 L664.75,754.65 L665.00,754.52 L665.25,754.41 L667.00,754.39 L667.25,754.49 L667.50,754.63 L667.75,754.75 L668.25,754.82 L668.50,754.73 L668.75,754.59 L669.00,754.45 L669.25,754.35 L669.75,754.40 L670.00,754.49 L670.25,754.58 L670.75,754.67 L671.25,754.58 L671.75,754.46 L674.00,754.60 L674.50,754.72 L675.25,754.61 L675.75,754.50 L678.50,754.42 L678.50,755.50 Z" fill="#383838" stroke="#303030" stroke-width="0.9" stroke-linejoin="round"/>
  <g stroke="#363636"><line x1="248.4" y1="473.5" x2="248.4" y2="640" stroke-width="1.9"/><line x1="220.2" y1="671.8" x2="220.2" y2="720" stroke-width="1.3"/><line x1="229.4" y1="660.2" x2="229.4" y2="720" stroke-width="1.4"/></g>
  <line x1="110" y1="755.7" x2="678.5" y2="755.7" stroke="#333" stroke-width="1.8"/>
  <g stroke="#888" stroke-width="1.2"><line x1="110" y1="757" x2="110" y2="760"/><line x1="282.1" y1="757" x2="282.1" y2="760"/><line x1="454.1" y1="757" x2="454.1" y2="760"/><line x1="626" y1="757" x2="626" y2="760"/></g>
  <g fill="#555" font-family="Liberation Sans, sans-serif" font-size="11.5" text-anchor="end">
    <text x="105" y="480.6" textLength="18" lengthAdjust="spacingAndGlyphs">8000</text>
    <text x="105" y="550.9" textLength="18" lengthAdjust="spacingAndGlyphs">6000</text>
    <text x="105" y="620.6" textLength="18" lengthAdjust="spacingAndGlyphs">4000</text>
    <text x="105" y="690.8" textLength="18" lengthAdjust="spacingAndGlyphs">2000</text>
  </g>
  <g fill="#555">
    <circle cx="109.6" cy="476.5" r="1.2"/><circle cx="109.6" cy="546.8" r="1.2"/><circle cx="109.6" cy="616.5" r="1.2"/><circle cx="109.6" cy="686.7" r="1.2"/>
  </g>
  <g fill="#606060" font-family="Liberation Sans, sans-serif" font-size="10.5"><text x="105.00" y="770.8" textLength="10.0" lengthAdjust="spacingAndGlyphs">0.0</text><text x="278.00" y="770.8" textLength="8.2" lengthAdjust="spacingAndGlyphs">10</text><text x="450.00" y="770.8" textLength="8.2" lengthAdjust="spacingAndGlyphs">20</text><text x="621.90" y="770.8" textLength="8.2" lengthAdjust="spacingAndGlyphs">30</text></g>
  <g fill="#2a2a2a" font-family="Liberation Sans, sans-serif" font-size="9.0" font-weight="bold">
    <text x="244.06" y="470.62" textLength="8.88" lengthAdjust="spacingAndGlyphs">Cu</text>
    <text x="259.56" y="710.22" textLength="8.88" lengthAdjust="spacingAndGlyphs">Cu</text>
    <text x="119.56" y="722.12" textLength="8.88" lengthAdjust="spacingAndGlyphs">Cu</text>
    <text x="112.60" y="731.22" textLength="4.81" lengthAdjust="spacingAndGlyphs">C</text>
    <text x="122.06" y="732.72" textLength="8.88" lengthAdjust="spacingAndGlyphs">Cu</text>
    <text x="115.91" y="744.22" textLength="5.18" lengthAdjust="spacingAndGlyphs">O</text>
    <text x="174.44" y="736.62" textLength="8.51" lengthAdjust="spacingAndGlyphs">Ca</text>
    <text x="169.14" y="747.22" textLength="8.51" lengthAdjust="spacingAndGlyphs">Ca</text>
    <text x="537.14" y="709.42" textLength="8.51" lengthAdjust="spacingAndGlyphs">Sn</text>
    <text x="540.74" y="720.62" textLength="8.51" lengthAdjust="spacingAndGlyphs">Sn</text>
    <text x="596.14" y="744.82" textLength="8.51" lengthAdjust="spacingAndGlyphs">Sn</text>
    <text x="607.14" y="750.52" textLength="8.51" lengthAdjust="spacingAndGlyphs">Sn</text>
  </g>
</svg>

<div class="tag" style="left:111.4px;top:35.2px;width:32.3px;height:33px"><span style="position:absolute;left:15.2px;top:9.3px">a</span></div>
<div class="tag" style="left:111.5px;top:435px;width:32px;height:32.5px"><span style="position:absolute;left:14.2px;top:9px;height:14.3px;overflow:hidden">b</span></div>

<div class="box" style="left:44px;top:119px;width:37.5px;height:125.5px"></div>
<div class="lbl" style="left:64px;top:182px;transform:translate(-50%,-50%) rotate(-90deg)">Counts</div>
<div class="box" style="left:324.4px;top:383.8px;width:125.2px;height:37px"><div style="position:absolute;left:0;top:0;width:100%;height:29.8px;overflow:hidden"><div class="lbl" style="left:30.2px;top:8.6px">Energy</div></div></div>

<div class="box" style="left:44px;top:526.5px;width:37.5px;height:126px"></div>
<div class="lbl" style="left:64px;top:589px;transform:translate(-50%,-50%) rotate(-90deg)">Counts</div>
<div class="box" style="left:324.3px;top:773.4px;width:125.3px;height:37.5px"><div style="position:absolute;left:0;top:0;width:100%;height:30px;overflow:hidden"><div class="lbl" style="left:30.3px;top:8.4px">Energy</div></div></div>

<table class="ta" style="left:453.4px;top:32.3px;width:217.2px">
<colgroup><col style="width:108.4px"><col style="width:108.8px"></colgroup>
<tr class="h"><td>Element</td><td>Atomic%</td></tr>
<tr class="g"><td>C</td><td>10.05</td></tr>
<tr class="w"><td>O</td><td>&nbsp;0.00</td></tr>
<tr class="g"><td>Ca</td><td>0.04</td></tr>
<tr class="w"><td>Cu</td><td>53.92</td></tr>
<tr class="g"><td>Sn</td><td>35.97</td></tr>
<tr class="w"><td>Total</td><td>100</td></tr>
</table>

<table class="tb" style="left:483.9px;top:430.5px;width:192px">
<colgroup><col style="width:84.7px"><col style="width:107.3px"></colgroup>
<tr class="h"><td>Element</td><td>Atomic%</td></tr>
<tr class="g"><td>C</td><td>20.13</td></tr>
<tr class="w"><td>O</td><td>&nbsp;&nbsp;25.04</td></tr>
<tr class="g"><td>Mg</td><td>&nbsp;&nbsp;2.64</td></tr>
<tr class="w"><td>Ca</td><td>12.61</td></tr>
<tr class="g"><td>Cu</td><td>16.73</td></tr>
<tr class="w"><td>Sn</td><td>22.82</td></tr>
<tr class="g"><td>Total</td><td>100%</td></tr>
</table>
<div class="frame"></div>
</body></html>
